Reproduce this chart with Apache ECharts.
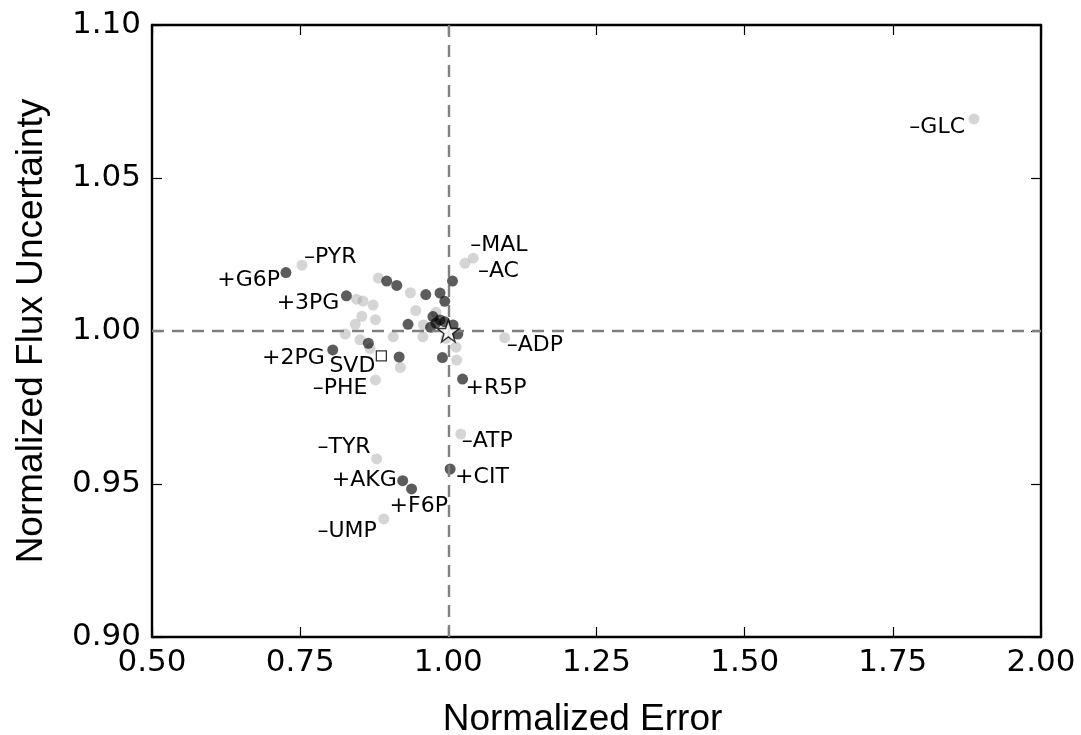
<!DOCTYPE html>
<html>
<head>
<meta charset="utf-8">
<script src="https://cdn.jsdelivr.net/npm/echarts@6/dist/echarts.min.js"></script>
<style>
html,body{margin:0;padding:0;background:#fff;}
#chart{width:1081px;height:735px;}
</style>
</head>
<body>
<div id="chart"></div>
<script>
// ---- data ----
const xTicks = [0.50, 0.75, 1.00, 1.25, 1.50, 1.75, 2.00];
const yTicks = [0.90, 0.95, 1.00, 1.05, 1.10];

// removed measurements (light gray)
const removedX = [1.887, 1.042, 1.028, 0.753, 1.095, 0.877, 0.879, 1.021, 0.891,
  0.882, 0.936, 0.845, 0.856, 0.873, 0.854, 0.877, 0.843, 0.826, 0.945, 0.979,
  0.958, 0.957, 0.907, 0.851, 0.868, 0.919, 1.013, 1.014, 0.996];
const removedY = [1.0693, 1.0238, 1.0221, 1.0215, 0.9978, 0.9840, 0.9582, 0.9663, 0.9386,
  1.0173, 1.0125, 1.0104, 1.0098, 1.0085, 1.0048, 1.0037, 1.0022, 0.9990, 1.0067, 1.0061,
  1.0020, 0.9981, 0.9981, 0.9971, 0.9943, 0.9881, 0.9947, 0.9905, 0.9976];
const removedLabels = ['–GLC', '–MAL', '–AC', '–PYR', '–ADP', '–PHE', '–TYR', '–ATP', '–UMP'];

// added measurements (dark)
const addedX = [0.726, 0.828, 0.805, 1.024, 0.923, 0.938, 1.003,
  0.896, 0.913, 0.962, 0.986, 0.994, 1.007, 0.932, 0.974, 0.986, 0.970, 0.994,
  1.008, 1.016, 0.865, 0.917, 0.990, 0.979];
const addedY = [1.0191, 1.0115, 0.9938, 0.9843, 0.9511, 0.9484, 0.9549,
  1.0163, 1.0149, 1.0119, 1.0124, 1.0097, 1.0163, 1.0022, 1.0047, 1.0036, 1.0012, 1.0030,
  1.0020, 0.9990, 0.9960, 0.9915, 0.9913, 1.0026];
const addedLabels = ['+G6P', '+3PG', '+2PG', '+R5P', '+AKG', '+F6P', '+CIT'];

const referencePoint = [1.0, 1.0];
const svdPoint = [0.887, 0.9919];
const svdLabel = 'SVD';

// ---- label placement (style, not data) ----
const labelPlace = {
  '–GLC': ['right', -9, 8], '–MAL': ['left', -3, -13], '–AC': ['left', 13, 8],
  '–PYR': ['left', 2, -8], '–ADP': ['left', 2, 8], '–PHE': ['right', -8, 8],
  '–TYR': ['right', -6, -12], '–ATP': ['left', 1, 7], '–UMP': ['right', -7, 12],
  '+G6P': ['right', -6, 8], '+3PG': ['right', -7, 7], '+2PG': ['right', -8, 8],
  '+R5P': ['left', 3, 9], '+AKG': ['right', -6, 0], '+F6P': ['left', -22, 17],
  '+CIT': ['left', 5, 8], 'SVD': ['right', -6, 10]
};
const labelFont = {fontFamily: 'DejaVu Sans', fontSize: 22, color: '#000',
  textBorderWidth: 0, textBorderColor: 'transparent', opacity: 1};

function item(x, y, name) {
  const d = {value: [x, y]};
  if (name) {
    const p = labelPlace[name];
    d.name = name;
    d.label = Object.assign({
      show: true, formatter: name, position: ['50%', '50%'],
      align: p[0], verticalAlign: 'middle', offset: [p[1], p[2]]
    }, labelFont);
  }
  return d;
}
const removedData = removedX.map((x, i) => item(x, removedY[i], removedLabels[i]));
const addedData = addedX.map((x, i) => item(x, addedY[i], addedLabels[i]));

const tickFont = {fontFamily: 'DejaVu Sans', fontSize: 31, color: '#000'};
const frameLine = {show: true, lineStyle: {color: '#000', width: 2.4}};
const innerTick = {show: true, inside: true, length: 10, lineStyle: {color: '#000', width: 1.2}};
const fmt = v => v.toFixed(2);

const chart = echarts.init(document.getElementById('chart'), null, {renderer: 'canvas'});
chart.setOption({
  animation: false,
  backgroundColor: '#fff',
  grid: {left: 152, right: 40, top: 25, bottom: 98, containLabel: false, outerBoundsMode: 'none'},
  xAxis: [
    {type: 'value', min: 0.5, max: 2.0, interval: 0.25, position: 'bottom',
     axisLine: frameLine, axisTick: innerTick, splitLine: {show: false},
     axisLabel: Object.assign({margin: 10, formatter: fmt}, tickFont),
     name: 'Normalized Error', nameLocation: 'middle', nameGap: 64,
     nameTextStyle: {fontFamily: 'Liberation Sans', fontSize: 37, color: '#000', padding: [0, 28, 0, 0]}},
    {type: 'value', min: 0.5, max: 2.0, interval: 0.25, position: 'top',
     axisLine: frameLine, axisTick: innerTick, splitLine: {show: false},
     axisLabel: {show: false}}
  ],
  yAxis: [
    {type: 'value', min: 0.9, max: 1.1, interval: 0.05, position: 'left',
     axisLine: frameLine, axisTick: innerTick, splitLine: {show: false},
     axisLabel: Object.assign({margin: 11, formatter: fmt}, tickFont),
     name: 'Normalized Flux Uncertainty', nameLocation: 'middle', nameGap: 102,
     nameTextStyle: {fontFamily: 'Liberation Sans', fontSize: 37, color: '#000'}},
    {type: 'value', min: 0.9, max: 1.1, interval: 0.05, position: 'right',
     axisLine: frameLine, axisTick: innerTick, splitLine: {show: false},
     axisLabel: {show: false}}
  ],
  series: [
    {type: 'scatter', data: [], z: 1, silent: true,
     markLine: {silent: true, symbol: 'none', label: {show: false},
       lineStyle: {type: [12, 8], color: '#808080', width: 2.4},
       data: [{xAxis: 1.0}, {yAxis: 1.0}]}},
    {type: 'scatter', name: 'removed', data: removedData, symbolSize: 11, z: 2,
     itemStyle: {color: 'rgba(150,150,150,0.5)'}},
    {type: 'scatter', name: 'added', data: addedData, symbolSize: 11, z: 3,
     itemStyle: {color: 'rgba(0,0,0,0.8)'}},
    {type: 'scatter', name: 'svd', data: [item(svdPoint[0], svdPoint[1], svdLabel)],
     symbol: 'rect', symbolSize: 10, z: 4,
     itemStyle: {color: '#fff', borderColor: '#000', borderWidth: 1.3}},
    {type: 'scatter', name: 'reference', data: [referencePoint], z: 5,
     symbol: 'path://M50,0 L61.8,35.4 L97.6,35.4 L68.8,57.3 L79.4,91.5 L50,70.5 L20.6,91.5 L31.2,57.3 L2.4,35.4 L38.2,35.4 Z',
     symbolSize: 22,
     itemStyle: {color: '#fff', borderColor: '#000', borderWidth: 1.4}}
  ]
});
</script>
</body>
</html>
